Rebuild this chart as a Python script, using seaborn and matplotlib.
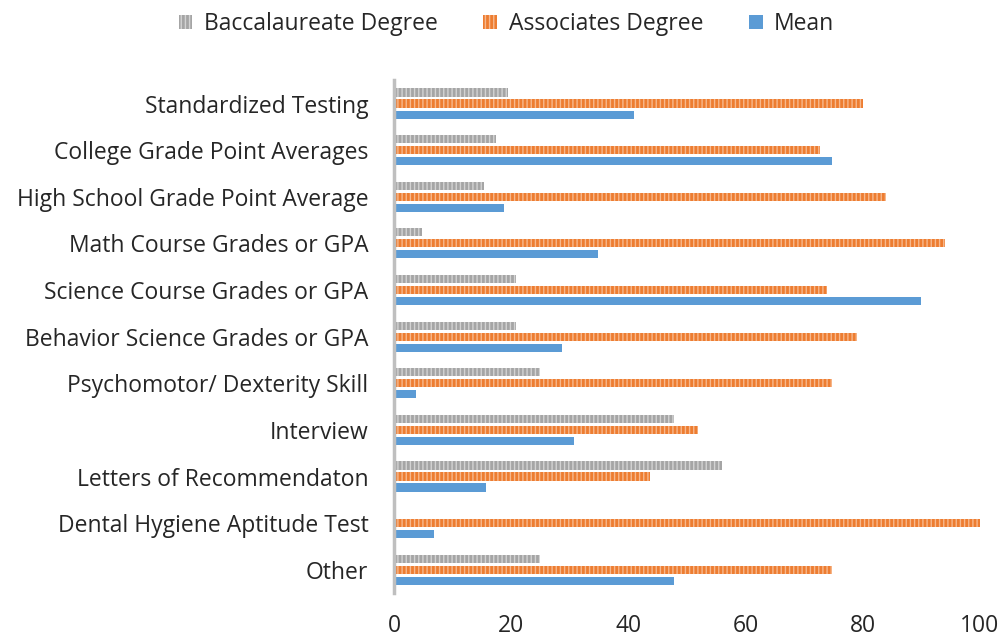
import matplotlib
matplotlib.use("Agg")
import matplotlib.pyplot as plt
import seaborn as sns
import pandas as pd
from matplotlib.patches import Patch

categories = ["Standardized Testing", "College Grade Point Averages", "High School Grade Point Average",
              "Math Course Grades or GPA", "Science Course Grades or GPA", "Behavior Science Grades or GPA",
              "Psychomotor/ Dexterity Skill", "Interview", "Letters of Recommendaton",
              "Dental Hygiene Aptitude Test", "Other"]
baccalaureate = [19.5, 17.4, 15.4, 4.8, 20.8, 20.8, 25.0, 47.8, 56.0, 0.0, 25.0]
associates = [80.0, 72.7, 84.0, 94.0, 73.9, 79.0, 74.7, 51.9, 43.7, 100.0, 74.7]
mean = [41.0, 74.7, 18.8, 34.8, 90.0, 28.7, 3.8, 30.7, 15.7, 6.8, 47.8]
series = ["Baccalaureate Degree", "Associates Degree", "Mean"]

rows = []
for s, vals in zip(series, [baccalaureate, associates, mean]):
    for c, v in zip(categories, vals):
        rows.append({"Category": c, "Series": s, "Value": v})
df = pd.DataFrame(rows)

sns.set_theme(style="white")
plt.rcParams['font.family'] = ['Open Sans', 'DejaVu Sans']
plt.rcParams['hatch.linewidth'] = 1.0

colors = {"Baccalaureate Degree": "#A5A5A5", "Associates Degree": "#ED7D31", "Mean": "#5B9BD5"}
hatchcol = {"Baccalaureate Degree": "#D3D3D3", "Associates Degree": "#F7B98E", "Mean": None}

fig = plt.figure(figsize=(10.01, 6.37), dpi=100)
ax = fig.add_axes([0.3936, 0.069, 0.979 - 0.3936, 0.874 - 0.069])
sns.barplot(data=df, y="Category", x="Value", hue="Series", order=categories, hue_order=series,
            palette=colors, orient="h", width=0.708, gap=0.26, saturation=1, ax=ax, legend=False)

for cont, s in zip(ax.containers, series):
    for p in cont:
        p.set_linewidth(0)
        if hatchcol[s]:
            p.set_hatch("||||")
            p.set_edgecolor(hatchcol[s])

ax.set_xlim(0, 100)
ax.set_ylim(10.5, -0.5)
ax.set_xticks([0, 20, 40, 60, 80, 100])
ax.set_xlabel("")
ax.set_ylabel("")
for sp in ["top", "right", "bottom"]:
    ax.spines[sp].set_visible(False)
ax.spines["left"].set_color("#BFBFBF")
ax.spines["left"].set_linewidth(2.5)
ax.tick_params(axis="x", length=0, pad=15, labelsize=16.5, labelcolor="#262626")
ax.tick_params(axis="y", length=0, pad=18.5, labelsize=16.5, labelcolor="#262626")
ax.grid(False)

handles = []
for s in series:
    if hatchcol[s]:
        handles.append(Patch(facecolor=colors[s], edgecolor=hatchcol[s], hatch="||||", linewidth=0, label=s))
    else:
        handles.append(Patch(facecolor=colors[s], linewidth=0, label=s))
fig.legend(handles=handles, loc="center", bbox_to_anchor=(0.506, 0.962), ncol=3, frameon=False,
           fontsize=16.5, handlelength=0.6, handleheight=0.6, columnspacing=2.0, handletextpad=0.5,
           labelcolor="#262626")

fig.savefig("out.png", dpi=100)
